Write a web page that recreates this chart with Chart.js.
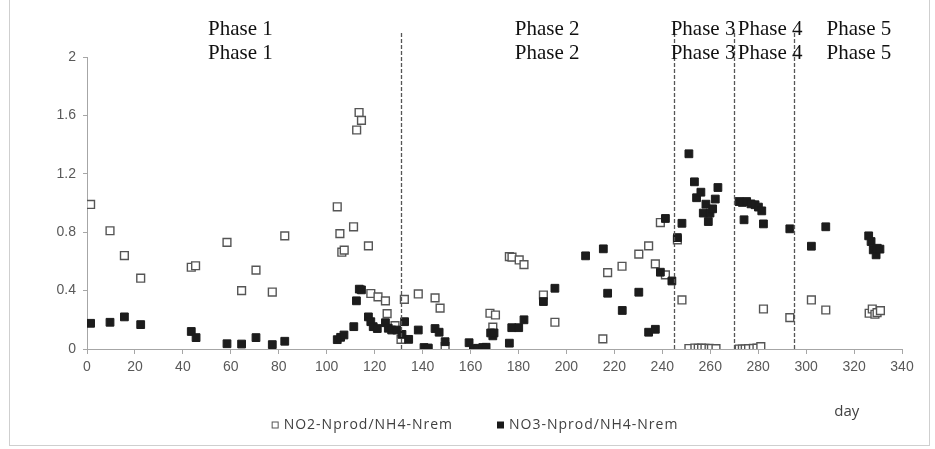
<!DOCTYPE html>
<html>
<head>
<meta charset="utf-8">
<title>NO2 / NO3 production ratio</title>
<script src="https://cdn.jsdelivr.net/npm/chart.js@4.4.1/dist/chart.umd.min.js"></script>
<style>
  html, body { margin: 0; padding: 0; background: #fff; }
  #wrap { width: 935px; height: 449px; }
</style>
</head>
<body>
<div id="wrap"><canvas id="resultsChart" width="935" height="449"></canvas></div>
<script>
// NO2-Nprod/NH4-Nrem (open squares)
const no2Days = [1.5, 9.6, 15.6, 22.4, 43.5, 45.3, 58.4, 64.5, 70.5, 77.3, 82.5,
  104.4, 105.5, 106.3, 107.3, 111.2, 112.5, 113.5, 114.5, 117.4, 118.4, 121.4, 124.5, 125.2, 128.5,
  131, 132.4, 138.2, 142, 145.2, 147.3, 149.4,
  168.1, 169.3, 170.4, 176.2, 177.3, 180.3, 182.3, 190.4, 195.2, 215.2, 217.2, 223.2, 230.2, 234.3,
  237.1, 239.2, 241.3, 246.3, 248.2,
  251.1, 253.6, 255, 256.4, 257.8, 259.5, 260.5, 262.4,
  272.1, 273.4, 274.6, 276, 278, 279.5, 281.1, 282.2,
  293.2, 302.2, 308.2, 326.3, 327.6, 328.7, 329.6, 331];
const no2Values = [0.99, 0.81, 0.64, 0.485, 0.56, 0.57, 0.73, 0.40, 0.54, 0.39, 0.775,
  0.974, 0.79, 0.663, 0.677, 0.837, 1.50, 1.62, 1.566, 0.706, 0.38, 0.357, 0.33, 0.242, 0.16,
  0.066, 0.34, 0.377, 0.005, 0.35, 0.28, 0.016,
  0.245, 0.15, 0.233, 0.633, 0.629, 0.61, 0.578, 0.37, 0.183, 0.069, 0.523, 0.567, 0.65, 0.706,
  0.583, 0.866, 0.508, 0.748, 0.336,
  0.003, 0.007, 0.005, 0.006, 0.005, 0.004, 0.003, 0.002,
  0.0, 0.0, 0.0, 0.002, 0.004, 0.006, 0.016, 0.274,
  0.215, 0.336, 0.267, 0.245, 0.274, 0.238, 0.249, 0.263];

// NO3-Nprod/NH4-Nrem (filled squares)
const no3Days = [1.5, 9.6, 15.6, 22.4, 43.5, 45.5, 58.4, 64.5, 70.5, 77.3, 82.5,
  104.4, 105.8, 107.2, 111.3, 112.4, 113.6, 114.5, 117.4, 118.4, 119.4, 121.1, 124.5, 125.7, 127.1, 129.2,
  131.4, 132.5, 134.2, 138.2, 140.6, 142.4, 145.2, 146.9, 149.4,
  159.4, 161.2, 163, 165.1, 166.5, 168.4, 169.3, 169.8, 176.2, 177.2, 180.1, 182.3, 190.4, 195.2,
  208, 215.4, 217.2, 223.3, 230.2, 234.3, 237.1, 239.2, 241.3, 244, 246.3, 248.2,
  251.1, 253.4, 254.3, 256.1, 257.1, 258.2, 259.2, 259.9, 261, 262.1, 263.2,
  272, 273.4, 274.1, 275.2, 277, 278.7, 280.1, 281.5, 282.2,
  293.2, 302.2, 308.2, 326.1, 327.1, 328, 329.2, 329.7, 330.8];
const no3Values = [0.176, 0.183, 0.22, 0.167, 0.12, 0.078, 0.036, 0.034, 0.078, 0.03, 0.053,
  0.064, 0.08, 0.096, 0.153, 0.33, 0.41, 0.405, 0.22, 0.187, 0.153, 0.14, 0.18, 0.142, 0.13, 0.13,
  0.1, 0.187, 0.066, 0.13, 0.01, 0.006, 0.14, 0.115, 0.05,
  0.043, 0.002, 0.005, 0.01, 0.012, 0.11, 0.09, 0.11, 0.04, 0.146, 0.146, 0.2, 0.325, 0.416,
  0.638, 0.686, 0.382, 0.264, 0.389, 0.115, 0.135, 0.526, 0.894, 0.466, 0.763, 0.861,
  1.337, 1.145, 1.036, 1.074, 0.931, 0.992, 0.873, 0.931, 0.96, 1.027, 1.106,
  1.01, 1.004, 0.885, 1.01, 0.994, 0.988, 0.972, 0.946, 0.857,
  0.823, 0.704, 0.837, 0.775, 0.736, 0.679, 0.645, 0.69, 0.684];

// phases
const phaseBounds = [131, 245, 270, 295];
const phaseNames = ['Phase 1', 'Phase 2', 'Phase 3', 'Phase 4', 'Phase 5'];
const phaseCenters = [64, 192, 257, 285, 322];

const seriesLabels = ['NO2-Nprod/NH4-Nrem', 'NO3-Nprod/NH4-Nrem'];

function toPoints(days, values) {
    return days.map((d, i) => ({ x: d, y: values[i] }));
}

// dashed phase lines, phase titles, legend and "day" label
const phasePlugin = {
    id: 'phases',
    beforeDraw(chart) {
        const ctx = chart.ctx;
        ctx.save();
        ctx.strokeStyle = '#cfcfcf';
        ctx.lineWidth = 1;
        ctx.strokeRect(9.5, -1, 920, 446.5);
        ctx.restore();
    },
    afterDatasetsDraw(chart) {
        const ctx = chart.ctx;
        const xs = chart.scales.x;
        const area = chart.chartArea;
        ctx.save();
        ctx.strokeStyle = '#555';
        ctx.lineWidth = 1.3;
        ctx.setLineDash([4, 2]);
        phaseBounds.forEach(b => {
            const px = Math.round(xs.getPixelForValue(b)) + 0.5;
            ctx.beginPath();
            ctx.moveTo(px, area.top - 24);
            ctx.lineTo(px, area.bottom);
            ctx.stroke();
        });
        ctx.setLineDash([]);

        ctx.fillStyle = '#111';
        ctx.font = '21px "Liberation Serif", "Times New Roman", serif';
        ctx.textAlign = 'center';
        ctx.textBaseline = 'alphabetic';
        phaseNames.forEach((name, i) => {
            const px = xs.getPixelForValue(phaseCenters[i]);
            ctx.fillText(name, px, area.top - 22);
            ctx.fillText(name, px, area.top + 2);
        });

        // axis name
        ctx.fillStyle = '#404040';
        ctx.font = '15px "Open Sans", sans-serif';
        ctx.textBaseline = 'middle';
        ctx.fillText('day', xs.getPixelForValue(317), area.bottom + 63);

        // legend
        ctx.font = '14px "Open Sans", sans-serif';
        ctx.letterSpacing = '1px';
        ctx.textAlign = 'left';
        const ly = area.bottom + 76;
        const box = 7, gapText = 5, gapItem = 44;
        const widths = seriesLabels.map(t => ctx.measureText(t).width);
        const total = widths[0] + widths[1] + 2 * (box + gapText) + gapItem;
        let lx = 475 - total / 2;
        seriesLabels.forEach((t, i) => {
            if (i === 0) {
                ctx.fillStyle = '#fff';
                ctx.fillRect(lx, ly - box / 2, box, box);
                ctx.strokeStyle = '#555';
                ctx.lineWidth = 1;
                ctx.strokeRect(lx + 0.5, ly - box / 2 + 0.5, box - 1, box - 1);
            } else {
                ctx.fillStyle = '#1a1a1a';
                ctx.fillRect(lx, ly - box / 2, box, box);
            }
            ctx.fillStyle = '#404040';
            ctx.fillText(t, lx + box + gapText, ly);
            lx += box + gapText + widths[i] + gapItem;
        });
        ctx.restore();
    }
};

const data = {
    datasets: [{
        label: seriesLabels[0],
        data: toPoints(no2Days, no2Values),
        pointStyle: 'rect',
        pointRadius: 5.5,
        backgroundColor: '#ffffff',
        borderColor: '#555555',
        borderWidth: 1.4,
        order: 1
    }, {
        label: seriesLabels[1],
        data: toPoints(no3Days, no3Values),
        pointStyle: 'rect',
        pointRadius: 5.5,
        backgroundColor: '#1c1c1c',
        borderColor: '#1c1c1c',
        borderWidth: 1,
        order: 0
    }]
};

const tickFont = { family: '"Liberation Sans", Arial, sans-serif', size: 14 };

const config = {
    type: 'scatter',
    data: data,
    options: {
        responsive: false,
        animation: false,
        devicePixelRatio: 1,
        layout: { padding: { left: 0, right: 33, top: 57, bottom: 0 } },
        plugins: {
            legend: { display: false },
            tooltip: { enabled: false }
        },
        scales: {
            x: {
                type: 'linear',
                min: 0,
                max: 340,
                ticks: { stepSize: 20, color: '#595959', font: tickFont, padding: 5 },
                grid: { drawOnChartArea: false, drawTicks: true, tickLength: 5, color: '#a6a6a6' },
                border: { color: '#a6a6a6' },
                afterFit: s => { s.height = 100; }
            },
            y: {
                min: 0,
                max: 2,
                ticks: {
                    stepSize: 0.4, color: '#595959', font: tickFont, padding: 7,
                    callback: v => String(Math.round(v * 10) / 10)
                },
                grid: { drawOnChartArea: false, drawTicks: true, tickLength: 4, color: '#a6a6a6' },
                border: { color: '#a6a6a6' },
                afterFit: s => { s.width = 87; }
            }
        }
    },
    plugins: [phasePlugin]
};

const ctx = document.getElementById('resultsChart').getContext('2d');
new Chart(ctx, config);
</script>
</body>
</html>
